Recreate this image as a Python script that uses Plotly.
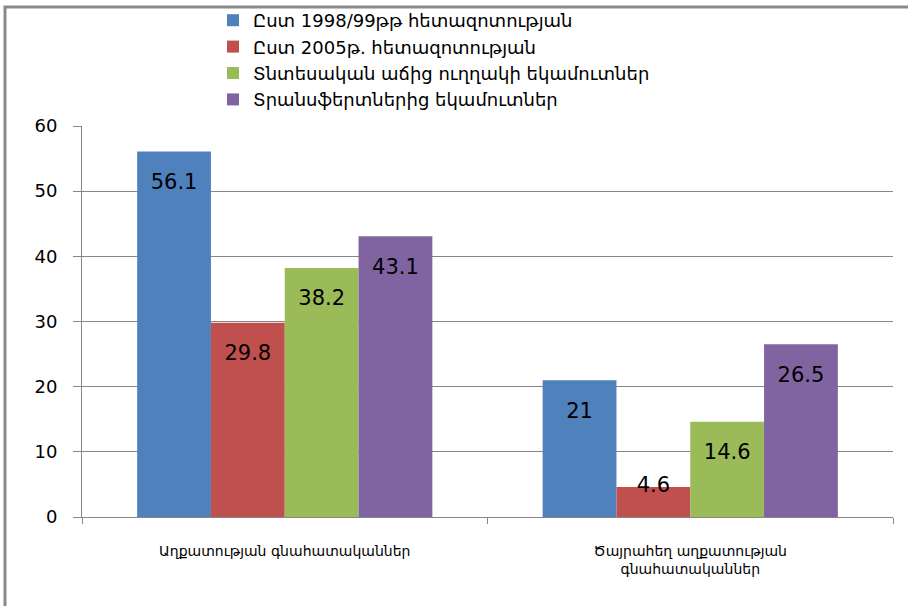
import plotly.graph_objects as go

categories = ["Աղքատության գնահատականներ", "Ծայրահեղ աղքատության<br>գնահատականներ"]
series_names = [
    "Ըստ 1998/99թթ հետազոտության",
    "Ըստ 2005թ. հետազոտության",
    "Տնտեսական աճից ուղղակի եկամուտներ",
    "Տրանսֆերտներից եկամուտներ",
]
s1998 = [56.1, 21]
s2005 = [29.8, 4.6]
s_growth = [38.2, 14.6]
s_transfers = [43.1, 26.5]
y_ticks = [0, 10, 20, 30, 40, 50, 60]

series_values = [s1998, s2005, s_growth, s_transfers]
colors = ["#4F81BD", "#C0504D", "#9BBB59", "#8064A2"]

FONT = "DejaVu Sans"
fig = go.Figure()
for i, (name, vals) in enumerate(zip(series_names, series_values)):
    fig.add_trace(go.Bar(
        x=categories, y=vals, name=name,
        marker=dict(color=colors[i], line=dict(width=0)),
        legendgroup=f"g{i}", hoverinfo="x+y+name",
    ))
for i, vals in enumerate(series_values):
    # short bars: label straddles the bar top (as Excel does when it does not fit)
    positions = ["middle center" if v < 10 else "bottom center" for v in vals]
    fig.add_trace(go.Scatter(
        x=categories, y=vals, mode="markers+text",
        text=[f"{v:g}" for v in vals], textposition=positions,
        textfont=dict(family=FONT, size=21, color="#000000"),
        marker=dict(size=33, opacity=0),
        showlegend=False, hoverinfo="skip", cliponaxis=False,
    ))

W, H = 908, 606
L, R, T, B = 82, 15, 126, 89
pw, ph = W - L - R, H - T - B

def px_x(p):
    return (p - L) / pw

def px_y(p):
    return (H - B - p) / ph

fig.add_shape(type="rect", xref="paper", yref="paper",
              x0=px_x(5), x1=px_x(930), y0=px_y(7), y1=px_y(630),
              line=dict(color="#8a8a8a", width=3), fillcolor="rgba(0,0,0,0)", layer="below")

fig.update_layout(
    width=W, height=H,
    margin=dict(l=L, r=R, t=T, b=B, autoexpand=False),
    paper_bgcolor="white", plot_bgcolor="white",
    barmode="group", bargap=0.272, bargroupgap=0,
    scattermode="group", scattergap=0.272,
    font=dict(family=FONT, color="#000000"),
    showlegend=True,
    legend=dict(
        x=px_x(213), y=px_y(2), xanchor="left", yanchor="top",
        font=dict(family=FONT, size=18, color="#000000"),
        tracegroupgap=0, bgcolor="rgba(0,0,0,0)",
        itemclick=False, itemdoubleclick=False,
    ),
    yaxis=dict(
        range=[0, 60], tickvals=y_ticks, ticks="outside", ticklen=8,
        tickcolor="#868686", showline=True, linecolor="#868686", linewidth=1,
        showgrid=True, gridcolor="#868686", gridwidth=1, zeroline=False,
        tickfont=dict(family=FONT, size=18, color="#000000"),
        ticklabelstandoff=12,
    ),
    xaxis=dict(
        ticks="outside", ticklen=6, tickson="boundaries", tickcolor="#868686",
        showline=True, linecolor="#868686", linewidth=1, showgrid=False,
        tickfont=dict(family=FONT, size=14, color="#000000"),
        ticklabelstandoff=21, tickangle=0,
    ),
)

fig.write_html("out.html", config={"displayModeBar": False},
               post_script="document.body.style.margin='0';")
